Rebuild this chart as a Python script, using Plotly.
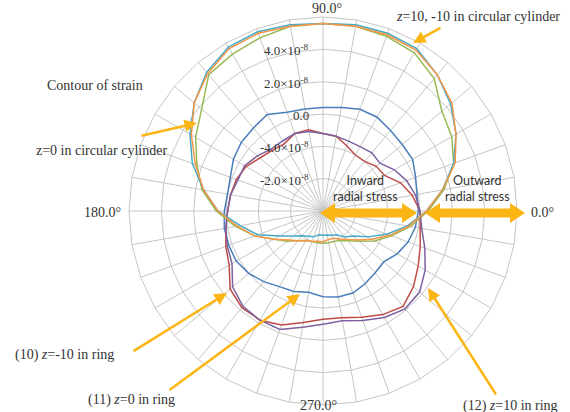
import plotly.graph_objects as go

# Angular positions (degrees, counter-clockwise from 0.0°)
angles = list(range(0, 360, 10))
cats = [str(a) for a in angles]

# Strain along the circumference, in units of 1e-8
ring_z0 = [-0.1, -0.1, 0.1, 0.4, 0.4, 0.5, 0.7, 0.7, 0.5, 0.4, 0.4, 0.5,
           0.9, 0.7, 0.6, 0.4, 0.1, 0.0, 0.1, 0.2, 0.2, 0.2, 0.0, -0.3,
           -0.6, -0.7, -0.9, -0.7, -0.6, -0.6, -0.8, -1.0, -1.1, -0.7, -0.4, -0.2]
ring_zm10 = [0.0, -0.4, -0.9, -1.6, -1.7, -2.0, -2.0, -1.7, -1.3, -1.2, -0.9, -0.9,
             -1.2, -1.1, -0.9, -0.5, -0.3, -0.2, -0.1, 0.1, 0.4, 0.7, 1.5, 1.8,
             1.8, 1.5, 1.0, 0.7, 0.7, 1.0, 1.4, 1.7, 1.3, 0.8, 0.4, 0.1]
cyl_z0 = [0.5, 1.6, 2.6, 3.2, 3.6, 4.7, 5.3, 5.5, 5.6, 5.6, 5.6, 5.4,
          5.2, 5.0, 3.8, 3.1, 2.3, 1.6, 0.6, -0.5, -1.5, -2.5, -3.1, -3.6,
          -3.9, -4.0, -4.0, -4.0, -4.0, -4.0, -3.9, -3.6, -3.1, -2.3, -1.5, -0.5]
ring_z10 = [0.0, -0.2, -0.5, -0.9, -1.4, -1.3, -1.4, -1.4, -1.3, -1.2, -1.0, -0.9,
            -1.0, -1.0, -0.7, -0.4, -0.4, -0.2, -0.1, 0.1, 0.3, 0.5, 1.3, 1.7,
            1.8, 1.8, 1.3, 1.0, 0.9, 1.2, 1.6, 1.9, 1.8, 1.3, 0.7, 0.2]
cyl_z10 = [0.4, 1.5, 2.6, 3.5, 4.3, 5.0, 5.6, 5.7, 5.7, 5.6, 5.7, 5.8,
           5.7, 5.2, 4.4, 3.5, 2.6, 1.5, 0.5, -0.8, -1.7, -2.9, -3.6, -4.0,
           -4.2, -4.3, -4.5, -4.5, -4.5, -4.4, -4.3, -3.9, -3.6, -2.8, -1.8, -0.7]
cyl_zm10 = [0.4, 1.5, 2.7, 3.5, 4.4, 5.0, 5.5, 5.6, 5.6, 5.6, 5.6, 5.7,
            5.6, 5.1, 4.4, 3.4, 2.4, 1.5, 0.5, -0.6, -1.5, -2.5, -3.2, -3.6,
            -3.9, -4.0, -4.1, -4.1, -4.2, -4.2, -4.0, -3.7, -3.2, -2.5, -1.6, -0.6]

series = [
    ("ring z=0", ring_z0, "#4A7EBB"),
    ("ring z=-10", ring_zm10, "#BE4B48"),
    ("cylinder z=0", cyl_z0, "#98B954"),
    ("ring z=10", ring_z10, "#7D60A0"),
    ("cylinder z=10", cyl_z10, "#46AAC5"),
    ("cylinder z=-10", cyl_zm10, "#F69546"),
]

# Radial ring labels, as printed on the chart
radial_ticks = [4, 2, 0, -2, -4]
radial_labels = ["4.0×10<sup>-8</sup>", "2.0×10<sup>-8</sup>", "0.0",
                 "-4.0×10<sup>-8</sup>", "-2.0×10<sup>-8</sup>"]

# Labelled directions
angle_labels = {"0": "0.0°", "90": "90.0°", "180": "180.0°", "270": "270.0°"}

W, H = 570, 412
CX, CY, R = 323, 211, 194
SERIF = "Liberation Serif, Times New Roman, serif"
GOLD = "#FBB515"
TXT = "#333333"


def px(x):
    return x / W


def py(y):
    return 1 - y / H


fig = go.Figure()
for name, vals, color in series:
    fig.add_trace(go.Scatterpolar(
        r=vals + vals[:1], theta=cats + cats[:1], mode="lines", name=name,
        line=dict(color=color, width=1.5), hoverinfo="skip"))

grid = "#C6C6C6"
fig.update_layout(
    width=W, height=H, showlegend=False,
    margin=dict(l=0, r=0, t=0, b=0),
    paper_bgcolor="white",
    polar=dict(
        domain=dict(x=[px(CX - R), px(CX + R)], y=[py(CY + R), py(CY - R)]),
        bgcolor="white",
        gridshape="linear",
        angularaxis=dict(
            type="category", categoryarray=cats, direction="counterclockwise",
            rotation=0, showticklabels=False,
            ticks="", showline=True, linecolor=grid, linewidth=1,
            gridcolor=grid, gridwidth=1),
        radialaxis=dict(
            range=[-6, 6], tickvals=[-4, -2, 0, 2, 4], showticklabels=False,
            ticks="", showline=False, gridcolor=grid, gridwidth=1, angle=90),
    ),
)

# Direction labels around the outer ring
angle_pos = {"0": (529, 212, "left"), "90": (327, 9, "center"),
             "180": (123, 212, "right"), "270": (318, 405, "center")}
for key, lab in angle_labels.items():
    x, y, anchor = angle_pos[key]
    fig.add_annotation(x=px(x), y=py(y), xref="paper", yref="paper", text=lab,
                       showarrow=False, xanchor=anchor, yanchor="middle",
                       font=dict(family=SERIF, size=14, color=TXT))

# Radial labels next to the vertical spoke
for t, lab in zip(radial_ticks, radial_labels):
    ring_px = (t + 6) / 12 * R
    yy = CY - ring_px
    fig.add_annotation(x=px(CX - 12), y=py(yy + 1), xref="paper", yref="paper",
                       text=lab, showarrow=False, xanchor="right", yanchor="middle",
                       font=dict(family=SERIF, size=13, color=TXT))


# Double-headed stress arrows
def double_arrow(x0, x1, y, head=15, half_head=10, half_shaft=4.5):
    pts = [(x0, y), (x0 + head, y - half_head), (x0 + head, y - half_shaft),
           (x1 - head, y - half_shaft), (x1 - head, y - half_head), (x1, y),
           (x1 - head, y + half_head), (x1 - head, y + half_shaft),
           (x0 + head, y + half_shaft), (x0 + head, y + half_head)]
    path = "M " + " L ".join(f"{px(a):.5f},{py(b):.5f}" for a, b in pts) + " Z"
    fig.add_shape(type="path", path=path, xref="paper", yref="paper",
                  fillcolor=GOLD, line=dict(width=0))


double_arrow(320, 417, 213)
double_arrow(425, 525, 213)

# Stress labels
for x, txt in [(365, "Inward<br>radial stress"), (477, "Outward<br>radial stress")]:
    fig.add_annotation(x=px(x), y=py(188), xref="paper", yref="paper", text=txt,
                       showarrow=False, align="center", xanchor="center", yanchor="middle",
                       font=dict(family="Lato, Open Sans, sans-serif", size=12.5, color=TXT))

# Callout texts
texts = [
    (95, 85, "Contour of strain"),
    (101, 150, "z=0 in circular cylinder"),
    (478, 17, "<i>z</i>=10, -10 in circular cylinder"),
    (64, 355, "(10) <i>z</i>=-10 in ring"),
    (131, 400, "(11) <i>z</i>=0 in ring"),
    (510, 406, "(12) <i>z</i>=10 in ring"),
]
for x, y, txt in texts:
    fig.add_annotation(x=px(x), y=py(y), xref="paper", yref="paper", text=txt,
                       showarrow=False, xanchor="center", yanchor="middle",
                       font=dict(family=SERIF, size=14, color=TXT))

# Pointer arrows: (head x, head y, tail x, tail y)
pointers = [
    (413, 43, 442, 27),
    (197, 123, 140, 136),
    (227, 293, 132, 352),
    (300, 294, 168, 391),
    (428, 288, 497, 396),
]
for hx, hy, tx, ty in pointers:
    fig.add_annotation(x=px(hx), y=py(hy), xref="paper", yref="paper", text="",
                       showarrow=True, ax=tx - hx, ay=ty - hy, axref="pixel", ayref="pixel",
                       arrowhead=2, arrowsize=1, arrowwidth=2.5, arrowcolor=GOLD)

fig.write_html("out.html")
